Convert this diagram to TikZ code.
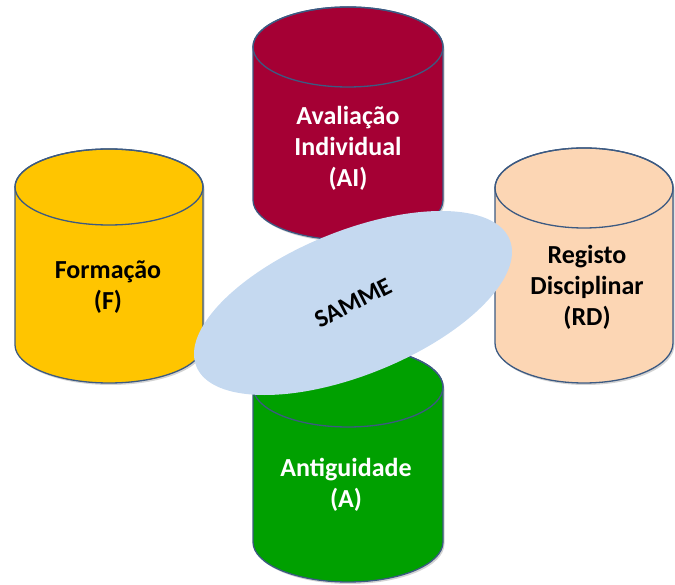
\documentclass[tikz,border=0pt]{standalone}
\usepackage{fontspec}
\setmainfont{Carlito}
\usepackage{tikz}
\usetikzlibrary{shapes.geometric, shadows, positioning}

\definecolor{aicol}{RGB}{165,0,52}
\definecolor{fcol}{RGB}{255,197,0}
\definecolor{rdcol}{RGB}{252,214,180}
\definecolor{acol}{RGB}{0,160,0}
\definecolor{sammecol}{RGB}{197,217,240}
\definecolor{rimcol}{RGB}{60,90,130}

\tikzset{
  cyl/.style={draw=rimcol, line width=1.3pt},
  lbl/.style={align=center, font=\bfseries\fontsize{26}{31}\selectfont},
  sammebox/.style={ellipse, fill=sammecol, inner sep=0pt, minimum width=338pt, minimum height=144pt}
}

\begin{document}
\begin{tikzpicture}[x=1pt, y=1pt]
    \useasboundingbox (0,0) rectangle (675,584);
    % cylinders: centre x / top y / bottom y / radii / colour
    \foreach \cx/\top/\bot/\rx/\ry/\col in {348/537/384/95/40/aicol, 348/197/42/95/40/acol, 109/397/239/94/38/fcol, 584/396/241/89/40/rdcol}
    {
        \draw[cyl, fill=\col, drop shadow={opacity=.35, shadow xshift=1.5pt, shadow yshift=-2pt}] (\cx-\rx,\top) -- (\cx-\rx,\bot)
            arc[start angle=180, end angle=360, x radius=\rx, y radius=\ry] -- (\cx+\rx,\top)
            arc[start angle=0, end angle=180, x radius=\rx, y radius=\ry] -- cycle;
        \draw[cyl] (\cx,\top) ellipse[x radius=\rx, y radius=\ry];
    }
    \node[lbl, text=white] (ai) at (348,436) {Avaliação\\Individual\\(AI)};
    \node[lbl, text=white] (a) at (346,99) {Antiguidade\\(A)};
    \node[lbl] (f) at (108,297) {Formação\\(F)};
    \node[lbl] (rd) at (587,297) {Registo\\Disciplinar\\(RD)};
    \node[sammebox, rotate=22] (samme) at (353,281) {};
    \node[font=\bfseries\fontsize{25}{28}\selectfont, rotate=27] (sammetxt) at (samme.center) {SAMME};
\end{tikzpicture}
\end{document}
